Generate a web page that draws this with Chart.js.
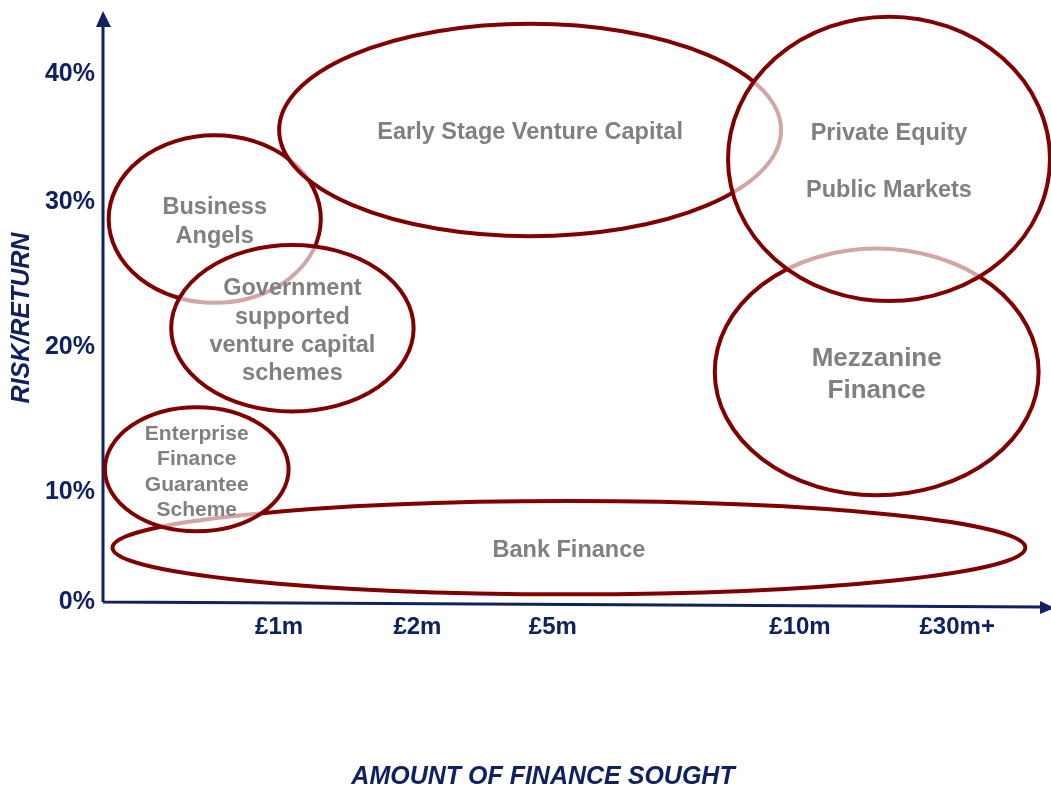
<!DOCTYPE html>
<html>
<head>
    <title>Risk/Return vs Amount of Finance Sought</title>
    <script src="https://cdn.jsdelivr.net/npm/chart.js"></script>
    <style>
        body {margin: 0; background: #fff; overflow: hidden;}
        #myChart {display: block;}
    </style>
</head>
<body>
    <canvas id="myChart" width="1051" height="787"></canvas>
    <script>
        // regions, in drawing order (later ones sit on top)
        var regionNames = ['Bank Finance', 'Enterprise Finance Guarantee Scheme', 'Business Angels',
            'Government supported venture capital schemes', 'Early Stage Venture Capital',
            'Mezzanine Finance', 'Private Equity / Public Markets'];
        var regionLines = [
            ['Bank Finance'],
            ['Enterprise', 'Finance', 'Guarantee', 'Scheme'],
            ['Business', 'Angels'],
            ['Government', 'supported', 'venture capital', 'schemes'],
            ['Early Stage Venture Capital'],
            ['Mezzanine', 'Finance'],
            ['Private Equity', '', 'Public Markets']
        ];
        // centre and half-widths, in axis units (0-100 on both axes)
        var centerX = [49.2, 9.9, 11.8, 20.0, 45.1, 81.7, 83.0];
        var centerY = [9.2, 22.5, 64.9, 46.4, 80.0, 39.0, 75.1];
        var radiusX = [48.2, 9.7, 11.2, 12.8, 26.5, 17.1, 17.0];
        var radiusY = [7.9, 10.5, 14.2, 14.1, 18.0, 20.9, 24.1];

        // tick labels and where they sit on the axes
        var xTickLabels = ['£1m', '£2m', '£5m', '£10m', '£30m+'];
        var xTickPos = [18.6, 33.2, 47.5, 73.6, 90.2];
        var yTickLabels = ['0%', '10%', '20%', '30%', '40%'];
        var yTickPos = [0, 18.6, 43.2, 67.8, 89.4];

        var navy = '#0f2160';
        var red = '#800000';
        var grey = '#808080';
        var fam = "'Liberation Sans', Arial, sans-serif";
        var labelSize = {'Mezzanine Finance': 26, 'Enterprise Finance Guarantee Scheme': 21};

        var ellipsePlugin = {
            id: 'ellipses',
            afterDatasetsDraw: function(chart) {
                var ctx = chart.ctx, xs = chart.scales.x, ys = chart.scales.y;
                var area = chart.chartArea;
                ctx.save();
                // axes with arrow heads
                ctx.strokeStyle = navy;
                ctx.fillStyle = navy;
                ctx.lineWidth = 3;
                ctx.beginPath();
                ctx.moveTo(area.left, area.bottom);
                ctx.lineTo(area.left, area.top + 12);
                ctx.moveTo(area.left, area.bottom);
                ctx.lineTo(area.right - 8, area.bottom + 5);
                ctx.stroke();
                ctx.beginPath();
                ctx.moveTo(area.left, area.top - 1);
                ctx.lineTo(area.left - 7, area.top + 15);
                ctx.lineTo(area.left + 8, area.top + 15);
                ctx.closePath();
                ctx.fill();
                ctx.beginPath();
                ctx.moveTo(area.right + 5, area.bottom + 6);
                ctx.lineTo(area.right - 10, area.bottom - 1);
                ctx.lineTo(area.right - 10, area.bottom + 12);
                ctx.closePath();
                ctx.fill();

                // ellipses
                for (var i = 0; i < regionNames.length; i++) {
                    var px = xs.getPixelForValue(centerX[i]);
                    var py = ys.getPixelForValue(centerY[i]);
                    var rx = Math.abs(xs.getPixelForValue(centerX[i] + radiusX[i]) - px);
                    var ry = Math.abs(ys.getPixelForValue(centerY[i] + radiusY[i]) - py);
                    ctx.beginPath();
                    ctx.ellipse(px, py, rx, ry, 0, 0, 2 * Math.PI);
                    ctx.fillStyle = 'rgba(255,255,255,0.65)';
                    ctx.fill();
                    ctx.lineWidth = 4;
                    ctx.strokeStyle = red;
                    ctx.stroke();
                }

                // labels
                ctx.fillStyle = grey;
                ctx.textAlign = 'center';
                ctx.textBaseline = 'middle';
                for (var j = 0; j < regionNames.length; j++) {
                    var size = labelSize[regionNames[j]] || 23.5;
                    var lh = size * 1.2;
                    var lines = regionLines[j];
                    var cx = xs.getPixelForValue(centerX[j]);
                    var cy = ys.getPixelForValue(centerY[j]) + 3;
                    ctx.font = 'bold ' + size + 'px ' + fam;
                    for (var k = 0; k < lines.length; k++) {
                        ctx.fillText(lines[k], cx, cy + (k - (lines.length - 1) / 2) * lh);
                    }
                }

                // axis titles
                ctx.fillStyle = navy;
                ctx.font = 'italic bold 25px ' + fam;
                ctx.fillText('AMOUNT OF FINANCE SOUGHT', 543, 777);
                ctx.translate(22, 318);
                ctx.rotate(-Math.PI / 2);
                ctx.fillText('RISK/RETURN', 0, 0);
                ctx.restore();
            }
        };

        var ctx = document.getElementById('myChart').getContext('2d');
        new Chart(ctx, {
            type: 'scatter',
            data: {
                datasets: regionNames.map(function(name, i) {
                    return {label: name, data: [{x: centerX[i], y: centerY[i]}], pointRadius: 0};
                })
            },
            options: {
                responsive: false,
                animation: false,
                layout: {padding: {top: 12, right: 1, left: 0, bottom: 0}},
                plugins: {
                    legend: {display: false},
                    tooltip: {enabled: false}
                },
                scales: {
                    x: {
                        min: 0, max: 100,
                        grid: {display: false, drawTicks: false},
                        border: {display: false},
                        afterBuildTicks: function(s) {
                            s.ticks = xTickPos.map(function(v) { return {value: v}; });
                        },
                        afterFit: function(s) {
                            s.height = 185;
                            s.paddingLeft = 0; s.paddingRight = 0;
                        },
                        ticks: {
                            autoSkip: false, maxRotation: 0, padding: 11,
                            color: navy,
                            font: {family: fam, size: 24, weight: 'bold'},
                            callback: function(v, i) { return xTickLabels[i]; }
                        }
                    },
                    y: {
                        min: 0, max: 100,
                        grid: {display: false, drawTicks: false},
                        border: {display: false},
                        afterBuildTicks: function(s) {
                            s.ticks = yTickPos.map(function(v) { return {value: v}; });
                        },
                        afterFit: function(s) {
                            s.width = 103;
                            s.paddingTop = 0; s.paddingBottom = 0;
                        },
                        ticks: {
                            autoSkip: false, padding: 8,
                            color: navy,
                            font: {family: fam, size: 25, weight: 'bold'},
                            callback: function(v, i) { return yTickLabels[i]; }
                        }
                    }
                }
            },
            plugins: [ellipsePlugin]
        });
    </script>
</body>
</html>
